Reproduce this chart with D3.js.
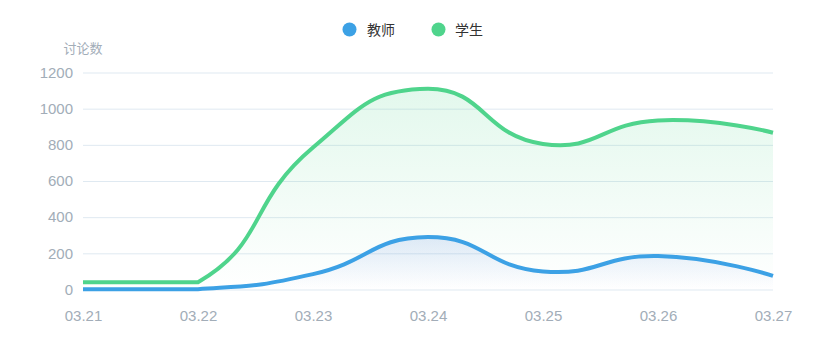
<!DOCTYPE html>
<html><head><meta charset="utf-8">
<script src="https://cdn.jsdelivr.net/npm/d3@7/dist/d3.min.js"></script>
<style>html,body{margin:0;padding:0;background:#fff;}svg{display:block;font-family:"Microsoft YaHei","Noto Sans CJK SC","Noto Sans",sans-serif;}</style>
</head><body><svg id="chart" width="813" height="360"></svg>
<script>
const categories = ["03.21","03.22","03.23","03.24","03.25","03.26","03.27"];
const teacherValues = [2, 2, 85, 290, 100, 185, 75];
const studentValues = [40, 40, 785, 1110, 805, 935, 867];
const yTicks = [0, 200, 400, 600, 800, 1000, 1200];
const seriesNames = ["教师", "学生"];
const yAxisName = "讨论数";

const W = 813, H = 360;
const margin = {left: 83, right: 40, top: 72.5, bottom: 70.5};
const svg = d3.select("#chart");
const x = d3.scalePoint().domain(categories).range([margin.left, W - margin.right]);
const y = d3.scaleLinear().domain([0, 1200]).range([H - margin.bottom, margin.top]);

const colors = {teacher: "#3ca1e5", student: "#4fd48c"};
const labelColor = "#a2adb8";

const defs = svg.append("defs");
function grad(id, color, op){
  const g = defs.append("linearGradient").attr("id", id).attr("x1",0).attr("y1",0).attr("x2",0).attr("y2",1);
  g.append("stop").attr("offset","0%").attr("stop-color",color).attr("stop-opacity",op);
  g.append("stop").attr("offset","100%").attr("stop-color",color).attr("stop-opacity",0);
}
grad("gS", "#4fd48c", 0.16);
grad("gT", "#4f7fdc", 0.16);

// grid
const yAxis = d3.axisLeft(y).tickValues(yTicks).tickFormat(d3.format("d"))
  .tickSize(-(W - margin.left - margin.right)).tickPadding(10);
const ga = svg.append("g").attr("transform", `translate(${margin.left},0)`).call(yAxis);
ga.select(".domain").remove();
ga.selectAll(".tick line").attr("stroke", "#dfe9f1").attr("stroke-width", 1);
ga.selectAll(".tick text").attr("fill", labelColor).attr("font-size", 15).attr("font-family", "inherit");

const xAxis = d3.axisBottom(x).tickSize(0).tickPadding(21);
const gx = svg.append("g").attr("transform", `translate(0,${H - margin.bottom})`).call(xAxis);
gx.select(".domain").remove();
gx.selectAll(".tick text").attr("fill", labelColor).attr("font-size", 15).attr("font-family", "inherit");

svg.append("text").attr("x", margin.left).attr("y", 53).attr("text-anchor","middle")
  .attr("fill", "#a2adb8").attr("font-size", 13).text(yAxisName);

// ECharts-like smoothing with bounding-box constraint
function smoothPath(pts, smooth, p){
  const xs = pts.map(d=>d[0]), ys = pts.map(d=>d[1]);
  const minX = d3.min(xs), maxX = d3.max(xs), minY = d3.min(ys), maxY = d3.max(ys);
  const clamp = c => [Math.max(minX, Math.min(maxX, c[0])), Math.max(minY, Math.min(maxY, c[1]))];
  let cp0 = pts[0];
  p.moveTo(pts[0][0], pts[0][1]);
  for (let i = 1; i < pts.length; i++){
    const pt = pts[i], prev = pts[i-1], next = pts[i+1];
    let cp1, ratio = 0.5, v = [0,0];
    if (!next) { cp1 = pt; }
    else {
      v = [next[0]-prev[0], next[1]-prev[1]];
      const l0 = Math.hypot(pt[0]-prev[0], pt[1]-prev[1]);
      const l1 = Math.hypot(next[0]-pt[0], next[1]-pt[1]);
      ratio = l1 / (l0 + l1);
      cp1 = [pt[0]-v[0]*smooth*(1-ratio), pt[1]-v[1]*smooth*(1-ratio)];
    }
    const a = clamp(cp0), b = clamp(cp1);
    p.bezierCurveTo(a[0], a[1], b[0], b[1], pt[0], pt[1]);
    cp0 = [pt[0]+v[0]*smooth*ratio, pt[1]+v[1]*smooth*ratio];
  }
  return p;
}
function linePts(vals){ return categories.map((c,i)=>[x(c), y(vals[i])]); }
function areaD(vals){
  const pts = linePts(vals);
  const p = smoothPath(pts, 0.5, d3.path());
  p.lineTo(pts[pts.length-1][0], y(0));
  p.lineTo(pts[0][0], y(0));
  p.closePath();
  return p.toString();
}
function lineD(vals){ return smoothPath(linePts(vals), 0.5, d3.path()).toString(); }

svg.append("path").attr("d", areaD(studentValues)).attr("fill", "url(#gS)");
svg.append("path").attr("d", areaD(teacherValues)).attr("fill", "url(#gT)");
svg.append("path").attr("d", lineD(studentValues)).attr("fill","none").attr("stroke", colors.student).attr("stroke-width", 4).attr("stroke-linejoin","round");
svg.append("path").attr("d", lineD(teacherValues)).attr("fill","none").attr("stroke", colors.teacher).attr("stroke-width", 4).attr("stroke-linejoin","round");

// legend
const leg = svg.append("g");
const items = [{name: seriesNames[0], c: colors.teacher, cx: 349.5, tx: 367}, {name: seriesNames[1], c: colors.student, cx: 438.5, tx: 455}];
items.forEach(it=>{
  leg.append("circle").attr("cx", it.cx).attr("cy", 29.5).attr("r", 7).attr("fill", it.c);
  leg.append("text").attr("x", it.tx).attr("y", 34.5).attr("font-size", 14).attr("fill", "#333").text(it.name);
});
</script></body></html>
